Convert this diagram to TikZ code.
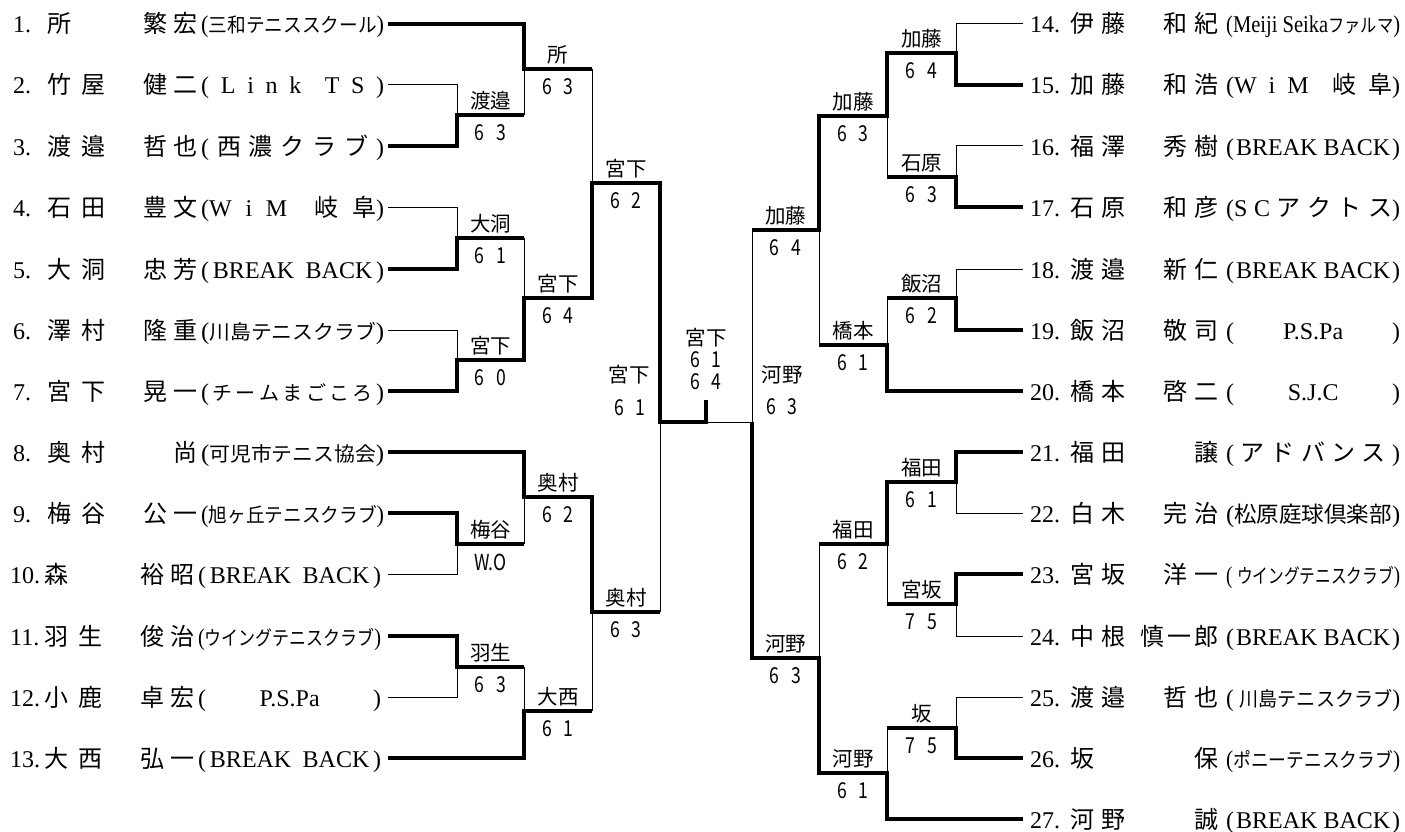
\documentclass[tikz,border=0pt]{standalone}
\usepackage{fontspec}
\usepackage{graphicx}
\setmainfont{Liberation Serif}
\newfontfamily\jp{Noto Sans CJK JP}
\newfontfamily\gt{Noto Sans CJK JP}
\newfontfamily\gtn{Noto Sans CJK JP}[FakeStretch=0.8]
\newlength\clubw
\newcommand\clubfit[2][20]{\resizebox{\clubw}{\height}{\rmfamily(\jp\fontsize{#1}{#1}\selectfont #2\rmfamily\fontsize{24}{28}\selectfont)}}
\newcommand\bkb{(\hfill BREAK\hfill\hfill\hfill BACK\hfill)}
\newcommand\rowL[4]{\setlength\clubw{183pt}\makebox[34pt][l]{#1}\makebox[58pt][s]{\jp #2}\hspace{38pt}\makebox[54pt][s]{\jp #3}\hspace{4pt}\makebox[\clubw][s]{\rmfamily #4}}
\newcommand\rowR[4]{\setlength\clubw{174pt}\makebox[40pt][l]{#1}\makebox[55pt][s]{\jp #2}\hspace{38pt}\makebox[55pt][s]{\jp #3}\hspace{8pt}\makebox[\clubw][s]{\rmfamily #4}}
\newcommand\pts[2]{#1\hspace{12pt}#2}
\newcommand\mlab[5]{\node[lab] (n#5) at (#1,#2-14) {#3}; \node[scr] (s#5) at (#1,#2+18) {#4};}
\begin{document}
\begin{tikzpicture}[x=1pt,y=-1pt,
 lose/.style={line width=1pt},
 win/.style={line width=3.5pt, line join=miter},
 row/.style={anchor=base west, inner sep=0pt, font=\fontsize{24}{28}\selectfont},
 lab/.style={inner sep=0pt, font=\gt\fontsize{20.5}{22}\selectfont},
 scr/.style={inner sep=0pt, font=\gtn\fontsize{22}{22}\selectfont}]
\fill[white] (0,0) rectangle (1405,832);
\useasboundingbox (0,0) rectangle (1405,832);

% ---------- left players ----------
\node[row] (p1) at (13,33) {\rowL{1.}{所\hfill}{繁\hfill 宏}{\clubfit{三和テニススクール}}};
\node[row] (p2) at (13,94) {\rowL{2.}{竹\hfill 屋}{健\hfill 二}{(\hfill L\hfill i\hfill n\hfill k\hfill\hfill T\hfill S\hfill)}};
\node[row] (p3) at (13,155) {\rowL{3.}{渡\hfill 邉}{哲\hfill 也}{(\hfill{\jp 西\hfill 濃\hfill ク\hfill ラ\hfill ブ}\hfill)}};
\node[row] (p4) at (13,216) {\rowL{4.}{石\hfill 田}{豊\hfill 文}{(W\hfill i\hfill M\hfill\hfill{\jp 岐\hfill 阜})}};
\node[row] (p5) at (13,278) {\rowL{5.}{大\hfill 洞}{忠\hfill 芳}{\bkb}};
\node[row] (p6) at (13,339) {\rowL{6.}{澤\hfill 村}{隆\hfill 重}{\clubfit{川島テニスクラブ}}};
\node[row] (p7) at (13,400) {\rowL{7.}{宮\hfill 下}{晃\hfill 一}{(\hfill{\jp\fontsize{20}{24}\selectfont チ\hfill ー\hfill ム\hfill ま\hfill ご\hfill こ\hfill ろ}\hfill)}};
\node[row] (p8) at (13,461) {\rowL{8.}{奥\hfill 村}{\hfill 尚}{\clubfit{可児市テニス協会}}};
\node[row] (p9) at (13,522) {\rowL{9.}{梅\hfill 谷}{公\hfill 一}{\clubfit{旭ヶ丘テニスクラブ}}};
\node[row] (p10) at (10,583) {\rowL{10.}{森\hfill}{裕\hfill 昭}{\bkb}};
\node[row] (p11) at (10,645) {\rowL{11.}{羽\hfill 生}{俊\hfill 治}{\clubfit{ウイングテニスクラブ}}};
\node[row] (p12) at (10,706) {\rowL{12.}{小\hfill 鹿}{卓\hfill 宏}{(\hfill P.S.Pa\hfill)}};
\node[row] (p13) at (10,767) {\rowL{13.}{大\hfill 西}{弘\hfill 一}{\bkb}};

% ---------- right players ----------
\node[row] (p14) at (1030,33) {\rowR{14.}{伊\hfill 藤}{和\hfill 紀}{\resizebox{\clubw}{\height}{(Meiji Seika{\jp\fontsize{19}{22}\selectfont ファルマ})}}};
\node[row] (p15) at (1030,94) {\rowR{15.}{加\hfill 藤}{和\hfill 浩}{(W\hfill i\hfill M\hfill\hfill{\jp 岐\hfill 阜})}};
\node[row] (p16) at (1030,155) {\rowR{16.}{福\hfill 澤}{秀\hfill 樹}{\bkb}};
\node[row] (p17) at (1030,216) {\rowR{17.}{石\hfill 原}{和\hfill 彦}{(S\hfill C\hfill{\jp ア\hfill ク\hfill ト\hfill ス})}};
\node[row] (p18) at (1030,278) {\rowR{18.}{渡\hfill 邉}{新\hfill 仁}{\bkb}};
\node[row] (p19) at (1030,339) {\rowR{19.}{飯\hfill 沼}{敬\hfill 司}{(\hfill P.S.Pa\hfill)}};
\node[row] (p20) at (1030,400) {\rowR{20.}{橋\hfill 本}{啓\hfill 二}{(\hfill S.J.C\hfill)}};
\node[row] (p21) at (1030,461) {\rowR{21.}{福\hfill 田}{\hfill 譲}{(\hfill{\jp ア\hfill ド\hfill バ\hfill ン\hfill ス}\hfill)}};
\node[row] (p22) at (1030,522) {\rowR{22.}{白\hfill 木}{完\hfill 治}{\clubfit[22]{松原庭球倶楽部}}};
\node[row] (p23) at (1030,583) {\rowR{23.}{宮\hfill 坂}{洋\hfill 一}{\clubfit{\hspace{6pt}ウイングテニスクラブ}}};
\node[row] (p24) at (1030,645) {\rowR{24.}{中\hfill 根}{\hspace*{-23pt}慎\hfill 一\hfill 郎}{\bkb}};
\node[row] (p25) at (1030,706) {\rowR{25.}{渡\hfill 邉}{哲\hfill 也}{\clubfit{\hspace{6pt}川島テニスクラブ}}};
\node[row] (p26) at (1030,767) {\rowR{26.}{坂\hfill}{\hfill 保}{\clubfit{ポニーテニスクラブ}}};
\node[row] (p27) at (1030,828) {\rowR{27.}{河\hfill 野}{\hfill 誠}{\bkb}};

% ---------- left bracket: thin ----------
\draw[lose] (388,85) -- (457,85) -- (457,115);
\draw[lose] (524,115) -- (524,69);
\draw[lose] (388,207) -- (457,207) -- (457,238);
\draw[lose] (524,238) -- (524,298);
\draw[lose] (388,330) -- (457,330) -- (457,360);
\draw[lose] (592,69) -- (592,183);
\draw[lose] (388,574) -- (457,574) -- (457,544);
\draw[lose] (524,544) -- (524,497);
\draw[lose] (388,697) -- (457,697) -- (457,667);
\draw[lose] (524,667) -- (524,711);
\draw[lose] (592,711) -- (592,612);
\draw[lose] (660,612) -- (660,422);
\draw[lose] (706,422) -- (752,422);
% ---------- left bracket: thick ----------
\draw[win] (388,24) -- (524,24) -- (524,69) -- (592,69);
\draw[win] (388,146) -- (457,146) -- (457,115) -- (524,115);
\draw[win] (388,269) -- (457,269) -- (457,238) -- (524,238);
\draw[win] (388,391) -- (457,391) -- (457,360) -- (524,360) -- (524,298) -- (592,298) -- (592,183) -- (660,183) -- (660,422) -- (706,422) -- (706,400);
\draw[win] (388,452) -- (524,452) -- (524,497) -- (592,497) -- (592,612) -- (660,612);
\draw[win] (388,513) -- (457,513) -- (457,544) -- (524,544);
\draw[win] (388,636) -- (457,636) -- (457,667) -- (524,667);
\draw[win] (388,758) -- (524,758) -- (524,711) -- (592,711);

% ---------- right bracket: thin ----------
\draw[lose] (1023,24) -- (956,24) -- (956,53);
\draw[lose] (1023,146) -- (956,146) -- (956,177);
\draw[lose] (887,177) -- (887,116);
\draw[lose] (1023,269) -- (956,269) -- (956,298);
\draw[lose] (887,298) -- (887,345);
\draw[lose] (819,345) -- (819,230);
\draw[lose] (752,230) -- (752,422);
\draw[lose] (1023,513) -- (956,513) -- (956,482);
\draw[lose] (1023,636) -- (956,636) -- (956,604);
\draw[lose] (887,604) -- (887,544);
\draw[lose] (1023,697) -- (956,697) -- (956,728);
\draw[lose] (887,728) -- (887,773);
\draw[lose] (819,544) -- (819,658);
% ---------- right bracket: thick ----------
\draw[win] (1023,85) -- (956,85) -- (956,53) -- (887,53) -- (887,116) -- (819,116) -- (819,230) -- (752,230);
\draw[win] (1023,207) -- (956,207) -- (956,177) -- (887,177);
\draw[win] (1023,330) -- (956,330) -- (956,298) -- (887,298);
\draw[win] (1023,391) -- (887,391) -- (887,345) -- (819,345);
\draw[win] (1023,452) -- (956,452) -- (956,482) -- (887,482) -- (887,544) -- (819,544);
\draw[win] (1023,574) -- (956,574) -- (956,604) -- (887,604);
\draw[win] (1023,758) -- (956,758) -- (956,728) -- (887,728);
\draw[win] (1023,819) -- (887,819) -- (887,773) -- (819,773) -- (819,658) -- (752,658) -- (752,422);

% ---------- match labels ----------
\mlab{490.5}{115}{渡邉}{\pts{6}{3}}{a1}
\mlab{558}{69}{所}{\pts{6}{3}}{a2}
\mlab{490.5}{238}{大洞}{\pts{6}{1}}{a3}
\mlab{490.5}{360}{宮下}{\pts{6}{0}}{a4}
\mlab{558}{298}{宮下}{\pts{6}{4}}{a5}
\mlab{626}{183}{宮下}{\pts{6}{2}}{a6}
\mlab{490.5}{544}{梅谷}{W.O}{a7}
\mlab{558}{497}{奥村}{\pts{6}{2}}{a8}
\mlab{490.5}{667}{羽生}{\pts{6}{3}}{a9}
\mlab{558}{711}{大西}{\pts{6}{1}}{a10}
\mlab{626}{612}{奥村}{\pts{6}{3}}{a11}
\node[lab] (nsl) at (629,375) {宮下};
\node[scr] (ssl) at (630,408) {\pts{6}{1}};
\node[lab] (nfin) at (706,338) {宮下};
\node[scr] (sfin1) at (706,360) {\pts{6}{1}};
\node[scr] (sfin2) at (706,382) {\pts{6}{4}};
\node[lab] (nsr) at (782,375) {河野};
\node[scr] (ssr) at (782,407) {\pts{6}{3}};
\mlab{921.5}{53}{加藤}{\pts{6}{4}}{b1}
\mlab{921.5}{177}{石原}{\pts{6}{3}}{b2}
\mlab{853}{116}{加藤}{\pts{6}{3}}{b3}
\mlab{921.5}{298}{飯沼}{\pts{6}{2}}{b4}
\mlab{853}{345}{橋本}{\pts{6}{1}}{b5}
\mlab{785.5}{230}{加藤}{\pts{6}{4}}{b6}
\mlab{921.5}{482}{福田}{\pts{6}{1}}{b7}
\mlab{921.5}{604}{宮坂}{\pts{7}{5}}{b8}
\mlab{853}{544}{福田}{\pts{6}{2}}{b9}
\mlab{921.5}{728}{坂}{\pts{7}{5}}{b10}
\mlab{853}{773}{河野}{\pts{6}{1}}{b11}
\mlab{785.5}{658}{河野}{\pts{6}{3}}{b12}
\end{tikzpicture}
\end{document}
